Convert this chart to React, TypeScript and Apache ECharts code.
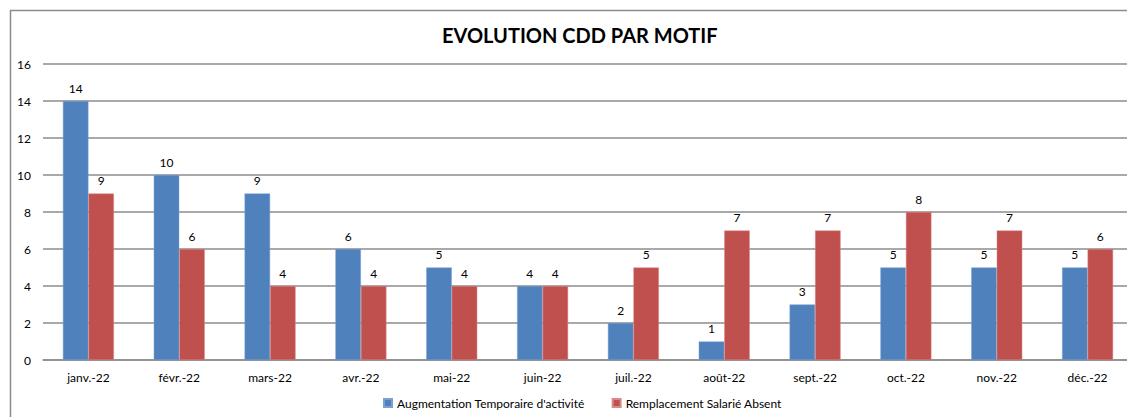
import React, { useEffect, useRef } from "react";
import * as echarts from "echarts";

const categories = ["janv.-22", "févr.-22", "mars-22", "avr.-22", "mai-22", "juin-22", "juil.-22", "août-22", "sept.-22", "oct.-22", "nov.-22", "déc.-22"];
const augmentation = [14, 10, 9, 6, 5, 4, 2, 1, 3, 5, 5, 5];
const remplacement = [9, 6, 4, 4, 4, 4, 5, 7, 7, 8, 7, 6];
const seriesNames = ["Augmentation Temporaire d'activité", "Remplacement Salarié Absent"];
const title = "EVOLUTION CDD PAR MOTIF";

const FONT = "Lato, 'Open Sans', sans-serif";

export default function App() {
  const ref = useRef<HTMLDivElement>(null);
  useEffect(() => {
    if (!ref.current) return;
    const chart = echarts.init(ref.current, null, { renderer: "svg" });
    const label = { show: true, position: "top", color: "#000", fontSize: 12, fontFamily: FONT, distance: 7 };
    chart.setOption({
      animation: false,
      backgroundColor: "#fff",
      title: {
        text: title,
        left: 437,
        top: 20,
        textStyle: { fontFamily: FONT, fontSize: 20, fontWeight: "bold", color: "#000" },
      },
      legend: {
        bottom: 3,
        left: 378,
        itemWidth: 8,
        itemHeight: 8,
        itemGap: 27,
        icon: "rect",
        textStyle: { fontFamily: FONT, fontSize: 12, color: "#000" },
        data: seriesNames,
      },
      graphic: [
        {
          type: "rect",
          shape: { x: 10.5, y: 10.5, width: 1200, height: 500 },
          style: { fill: "none", stroke: "#8c8c8c", lineWidth: 1.5 },
          silent: true,
        },
      ],
      grid: { left: 43, right: -6, top: 64, bottom: 57, containLabel: false, outerBoundsMode: "none" },
      xAxis: {
        type: "category",
        data: categories,
        axisLine: { show: true, lineStyle: { color: "#8c8c8c", width: 1.5 } },
        axisTick: { show: false },
        axisLabel: { color: "#000", fontSize: 12, fontFamily: FONT, margin: 11 },
      },
      yAxis: {
        type: "value",
        min: 0,
        max: 16,
        interval: 2,
        axisLine: { show: false },
        axisTick: { show: false },
        axisLabel: { color: "#000", fontSize: 12, fontFamily: FONT, margin: 12 },
        splitLine: { lineStyle: { color: "#8c8c8c", width: 1.5 } },
      },
      series: [
        {
          name: seriesNames[0],
          type: "bar",
          data: augmentation,
          barWidth: 25.5,
          barGap: "0%",
          itemStyle: { color: "#4F81BD", borderColor: "#7da1cf", borderWidth: 0.5 },
          label,
        },
        {
          name: seriesNames[1],
          type: "bar",
          data: remplacement,
          barWidth: 25.5,
          barGap: "0%",
          itemStyle: { color: "#C0504D", borderColor: "#d88a88", borderWidth: 0.5 },
          label,
        },
      ],
    });
    return () => chart.dispose();
  }, []);
  return <div ref={ref} style={{ position: "fixed", left: 0, top: 0, width: 1127, height: 417 }} />;
}
